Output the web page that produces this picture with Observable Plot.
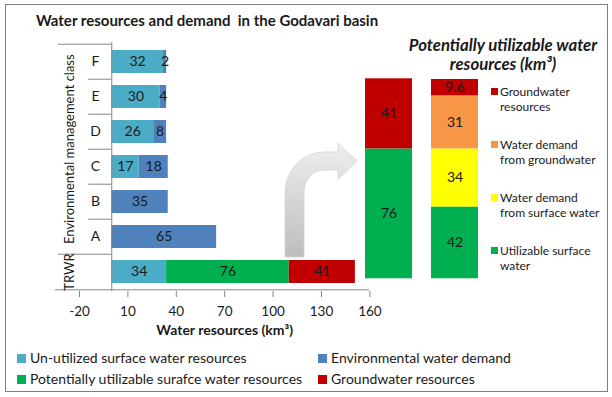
<!DOCTYPE html>
<html>
<head>
<meta charset="utf-8">
<script src="https://cdn.jsdelivr.net/npm/d3@7"></script>
<script src="https://cdn.jsdelivr.net/npm/@observablehq/plot@0.6"></script>
<style>
  body { margin: 0; background: #fff; }
  #root { position: relative; width: 612px; height: 397px; background: #fff; overflow: hidden; font-family: Lato, "Open Sans", sans-serif; color: #1a1a1a; }
  .abs { position: absolute; }
  #main svg [aria-label^="x-axis"] line,
  #main svg [aria-label="x-axis tick"] path,
  #main svg [aria-label="x-axis tick"] { stroke: #868686; }
</style>
</head>
<body>
<div id="root">
  <div class="abs" style="left:5px;top:4px;width:603px;height:388px;border:1.5px solid #7f7f7f;box-sizing:border-box;"></div>
  <div class="abs" id="title" style="left:36px;top:10px;font-weight:bold;font-size:15px;line-height:20px;white-space:pre;">Water resources and demand  in the Godavari basin</div>
  <div class="abs" id="rtitle" style="left:393px;width:220px;top:35px;text-align:center;font-weight:bold;font-style:italic;font-size:16.8px;line-height:19px;white-space:nowrap;">Potentially utilizable water<br>resources (km³)</div>
  <svg class="abs" style="left:0;top:0;" width="612" height="397">
    <defs>
      <linearGradient id="ag" x1="0" y1="0" x2="0" y2="1">
        <stop offset="0" stop-color="#efefef"/>
        <stop offset="1" stop-color="#bdbdbd"/>
      </linearGradient>
    </defs>
    <path d="M 285 257 L 285 192 A 40 40 0 0 1 325 152 L 338 152 L 338 143 L 357 161 L 338 179 L 338 170 L 325 170 A 21 21 0 0 0 304 191 L 304 257 Z" fill="url(#ag)" stroke="#d4d4d4" stroke-width="0.8"/>
  </svg>
  <div class="abs" id="main" style="left:0;top:0;"></div>
  <div class="abs" id="pot" style="left:340px;top:0;"></div>
  <div id="rlegend"></div>
  <div id="blegend"></div>
</div>
<script>
// ---- Data: main chart ----
const classes = ["F", "E", "D", "C", "B", "A"];
const unutilized = [32, 30, 26, 17, 0, 0];
const envDemand = [2, 4, 8, 18, 35, 65];
const trwrLabel = "TRWR";
const trwrValues = [34, 76, 41];
const mainSeries = [
  "Un-utilized surface water resources",
  "Environmental water demand",
  "Potentially utilizable surafce water resources",
  "Groundwater resources"
];
const mainColors = ["#4bacc6", "#4f81bd", "#00b050", "#c00000"];
const trwrSeries = [mainSeries[0], mainSeries[2], mainSeries[3]];
const xTicks = [-20, 10, 40, 70, 100, 130, 160];
const xLabel = "Water resources (km³)";
const yLabel = "Environmental management class";

// ---- Data: potentially utilizable water resources ----
const potColumns = ["Potential", "Demand"];
const potSeries = [
  "Utilizable surface water",
  "Water demand from surface water",
  "Water demand from groundwater",
  "Groundwater resources"
];
const potColors = ["#00b050", "#ffff00", "#f79646", "#c00000"];
const potPotentialSeries = [potSeries[0], potSeries[3]];
const potPotentialValues = [76, 41];
const potDemandValues = [42, 34, 31, 9.6];
const rLegendLines = [
  ["Groundwater", "resources"],
  ["Water demand", "from groundwater"],
  ["Water demand", "from surface water"],
  ["Utilizable surface", "water"]
];
const rLegendSeries = [potSeries[3], potSeries[2], potSeries[1], potSeries[0]];

// ---- Build tables ----
const cats = [...classes, trwrLabel];
const mainRows = [];
classes.forEach((c, i) => {
  if (unutilized[i] > 0) mainRows.push({cat: c, series: mainSeries[0], value: unutilized[i]});
  if (envDemand[i] > 0) mainRows.push({cat: c, series: mainSeries[1], value: envDemand[i]});
});
trwrValues.forEach((v, i) => mainRows.push({cat: trwrLabel, series: trwrSeries[i], value: v}));

const potRows = [];
potPotentialValues.forEach((v, i) => potRows.push({col: potColumns[0], series: potPotentialSeries[i], value: v}));
potDemandValues.forEach((v, i) => potRows.push({col: potColumns[1], series: potSeries[i], value: v}));

// ---- Layout ----
const W = 612, H = 397;
const mL = 79, mR = 242.6, mT = 42, mB = 106;
const step = (H - mB - mT) / cats.length;
const axisGray = "#868686";
const ink = "#1a1a1a";

const main = Plot.plot({
  width: W, height: H,
  marginLeft: mL, marginRight: mR, marginTop: mT, marginBottom: mB,
  style: {background: "transparent", fontFamily: "Lato, 'Open Sans', sans-serif", fontSize: "13.5px", color: ink, overflow: "visible"},
  x: {domain: [-20, 160], ticks: xTicks, tickSize: 6, tickPadding: 9, tickFormat: d => String(d), label: null},
  y: {domain: cats, paddingInner: 0.33, paddingOuter: 0.165, axis: null},
  color: {domain: mainSeries, range: mainColors},
  marks: [
    Plot.barX(mainRows, Plot.stackX({y: "cat", x: "value", fill: "series"})),
    Plot.text(mainRows, Plot.stackX({y: "cat", x: "value", text: d => d.value, fill: ink, fontSize: 14})),
    Plot.ruleY(cats, {y: d => d, x1: d => (d === classes[0] || d === trwrLabel) ? -33 : -14.3, x2: 0, dy: -step / 2, stroke: axisGray}),
    Plot.ruleY([trwrLabel], {y: d => d, x1: -35, x2: 160, dy: step / 2, stroke: axisGray}),
    Plot.ruleX([0], {stroke: axisGray}),
    Plot.text(classes, {y: d => d, text: d => d, frameAnchor: "left", textAnchor: "middle", dx: 16, fill: ink, fontSize: 14}),
    Plot.text([trwrLabel], {y: d => d, text: d => d, frameAnchor: "left", textAnchor: "middle", dx: -10, rotate: -90, fill: ink, fontSize: 13}),
    Plot.text([classes[3]], {y: d => d, text: () => yLabel, frameAnchor: "left", textAnchor: "middle", dx: -10, dy: -step / 2, rotate: -90, fill: ink, fontSize: 13}),
    Plot.text([xLabel], {text: d => d, frameAnchor: "bottom", lineAnchor: "middle", dy: 39, fill: ink, fontSize: 14, fontWeight: "bold"})
  ]
});
document.getElementById("main").appendChild(main);

const pot = Plot.plot({
  width: 160, height: 300,
  marginLeft: 5, marginRight: 3, marginTop: 78.3, marginBottom: 21.7,
  style: {background: "transparent", fontFamily: "Lato, 'Open Sans', sans-serif", fontSize: "13.5px", color: ink, overflow: "visible"},
  x: {domain: potColumns, paddingInner: 0.29, paddingOuter: 0.29, axis: null},
  y: {domain: [0, 117], axis: null},
  color: {domain: potSeries, range: potColors},
  marks: [
    Plot.barY(potRows, Plot.stackY({x: "col", y: "value", fill: "series"})),
    Plot.text(potRows, Plot.stackY({x: "col", y: "value", text: d => d.value, fill: ink, fontSize: 14}))
  ]
});
document.getElementById("pot").appendChild(pot);

// ---- Right legend ----
const colorOfPot = s => potColors[potSeries.indexOf(s)];
const rl = document.getElementById("rlegend");
const rTops = [91.7, 144.6, 197.4, 250.2];
rLegendLines.forEach((lines, i) => {
  const sw = document.createElement("div");
  sw.className = "abs";
  sw.style.cssText = `left:491px;top:${rTops[i] - 3.5}px;width:7px;height:7px;background:${colorOfPot(rLegendSeries[i])};`;
  rl.appendChild(sw);
  const t = document.createElement("div");
  t.className = "abs";
  t.style.cssText = `left:500px;top:${rTops[i] - 7.5}px;font-size:12px;line-height:15px;white-space:nowrap;`;
  t.innerHTML = lines.join("<br>");
  rl.appendChild(t);
});

// ---- Bottom legend ----
const bl = document.getElementById("blegend");
const bItems = [
  {s: mainSeries[0], x: 17, y: 358},
  {s: mainSeries[2], x: 17, y: 379},
  {s: mainSeries[1], x: 318, y: 358},
  {s: mainSeries[3], x: 318, y: 379}
];
bItems.forEach(it => {
  const sw = document.createElement("div");
  sw.className = "abs";
  sw.style.cssText = `left:${it.x}px;top:${it.y - 4.5}px;width:9px;height:9px;background:${mainColors[mainSeries.indexOf(it.s)]};`;
  bl.appendChild(sw);
  const t = document.createElement("div");
  t.className = "abs";
  t.style.cssText = `left:${it.x + 13}px;top:${it.y - 9}px;font-size:14px;line-height:18px;white-space:nowrap;`;
  t.textContent = it.s;
  bl.appendChild(t);
});
</script>
</body>
</html>
